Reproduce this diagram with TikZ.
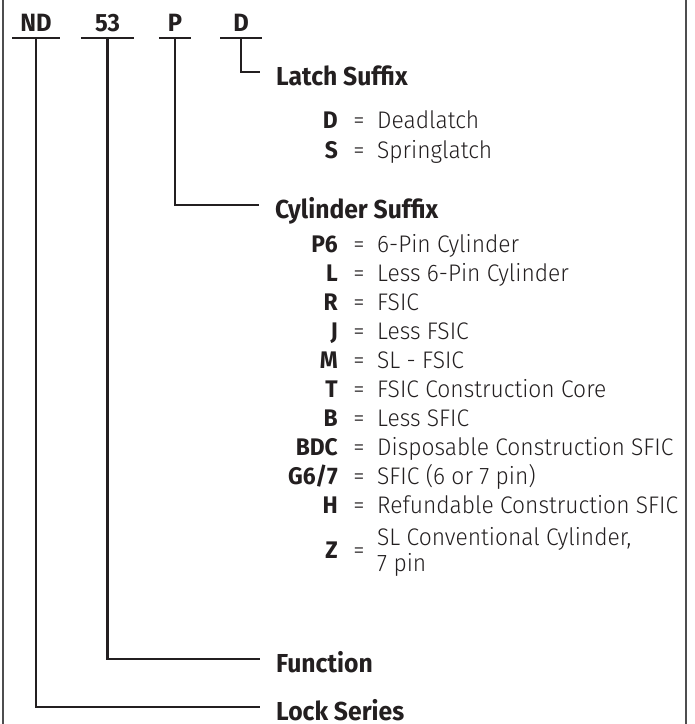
\documentclass[tikz,border=0pt]{standalone}
\usepackage{fontspec}
\setmainfont{Fira Sans}[UprightFont=* Light, BoldFont=* Bold, FakeStretch=0.95]
\usetikzlibrary{positioning}
\definecolor{ink}{HTML}{231F20}
\definecolor{rule}{HTML}{4D4D4F}

\begin{document}
\begin{tikzpicture}[x=1pt, y=-1pt,
		hd/.style={font=\fontsize{25}{30}\selectfont\bfseries, text=ink, inner xsep=0pt, inner ysep=6pt, text height=18pt, text depth=0pt, anchor=south},
		head/.style={font=\fontsize{26}{30}\selectfont\bfseries, text=ink, inner xsep=16pt, inner ysep=0pt, text height=26pt, text depth=0pt, anchor=west},
		key/.style={font=\fontsize{24}{28}\selectfont\bfseries, text=ink, inner sep=0pt, anchor=base east},
		eq/.style={font=\fontsize{24}{28}\selectfont, text=ink, inner sep=0pt, anchor=base},
		desc/.style={font=\fontsize{24}{26}\selectfont, text=ink, inner sep=0pt, anchor=base west, align=left},
		ed/.style={line width=2.2pt, draw=ink},
		frame/.style={line width=1.2pt, draw=rule}
		]
		\useasboundingbox (0,0) rectangle (695,724);
		\draw[frame] (3,0) -- (3,724);
		\draw[frame] (686,0) -- (686,724);
		% model number
		\node[hd, minimum width=47pt] (nd) at (36,38) {ND};
		\node[hd, minimum width=53pt] (fnum) at (107.5,38) {53};
		\node[hd, minimum width=32pt] (cnum) at (175,38) {P};
		\node[hd, minimum width=41pt] (lnum) at (241,38) {D};
		\draw[ed] (nd.south west) -- (nd.south east);
		\draw[ed] (fnum.south west) -- (fnum.south east);
		\draw[ed] (cnum.south west) -- (cnum.south east);
		\draw[ed] (lnum.south west) -- (lnum.south east);
		% headings
		\node[head] (latch) at (260,72) {Latch Suffix};
		\node[head] (cyl) at (259,205) {Cylinder Suffix};
		\node[head] (func) at (260,659) {Function};
		\node[head] (lock) at (260,707) {Lock Series};
		\draw[ed] (lnum.south) |- (latch.west);
		\draw[ed] (cnum.south) |- (cyl.west);
		\draw[ed] (fnum.south) |- (func.west);
		\draw[ed] (nd.south) |- (lock.west);
		% latch suffix
		\node[key] (kD) at (338,128.5) {D};
		\node[eq] (qD) at (359,128.5) {=};
		\node[desc] (dD) at (377,128.5) {Deadlatch};
		\node[key] (kS) at (338,158.5) {S};
		\node[eq] (qS) at (359,158.5) {=};
		\node[desc] (dS) at (377,158.5) {Springlatch};
		% cylinder suffix
		\node[key] (kP6) at (338,252.5) {P6};
		\node[eq] (qP6) at (359,252.5) {=};
		\node[desc] (dP6) at (377,252.5) {6-Pin Cylinder};
		\node[key] (kL) at (338,281.5) {L};
		\node[eq] (qL) at (359,281.5) {=};
		\node[desc] (dL) at (377,281.5) {Less 6-Pin Cylinder};
		\node[key] (kR) at (338,310.5) {R};
		\node[eq] (qR) at (359,310.5) {=};
		\node[desc] (dR) at (377,310.5) {FSIC};
		\node[key] (kJ) at (338,339.5) {J};
		\node[eq] (qJ) at (359,339.5) {=};
		\node[desc] (dJ) at (377,339.5) {Less FSIC};
		\node[key] (kM) at (338,368.5) {M};
		\node[eq] (qM) at (359,368.5) {=};
		\node[desc] (dM) at (377,368.5) {SL - FSIC};
		\node[key] (kT) at (338,397.5) {T};
		\node[eq] (qT) at (359,397.5) {=};
		\node[desc] (dT) at (377,397.5) {FSIC Construction Core};
		\node[key] (kB) at (338,426.5) {B};
		\node[eq] (qB) at (359,426.5) {=};
		\node[desc] (dB) at (377,426.5) {Less SFIC};
		\node[key] (kBDC) at (338,455.5) {BDC};
		\node[eq] (qBDC) at (359,455.5) {=};
		\node[desc] (dBDC) at (377,455.5) {Disposable Construction SFIC};
		\node[key] (kG) at (338,484.5) {G6/7};
		\node[eq] (qG) at (359,484.5) {=};
		\node[desc] (dG) at (377,484.5) {SFIC (6 or 7 pin)};
		\node[key] (kH) at (338,513.5) {H};
		\node[eq] (qH) at (359,513.5) {=};
		\node[desc] (dH) at (377,513.5) {Refundable Construction SFIC};
		\node[key] (kZ) at (338,558.5) {Z};
		\node[eq] (qZ) at (359,558.5) {=};
		\node[desc, anchor=west] (dZ) at (377,552) {SL Conventional Cylinder,\\7 pin};
	\end{tikzpicture}
\end{document}
